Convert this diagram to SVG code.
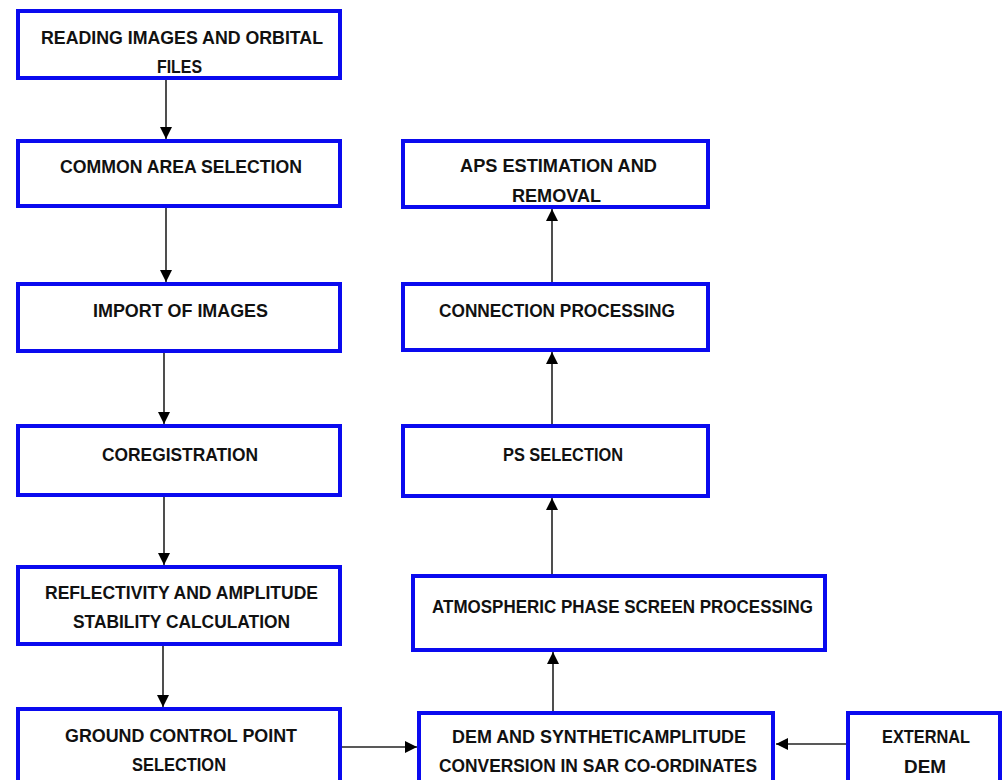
<svg xmlns="http://www.w3.org/2000/svg" width="1004" height="780" viewBox="0 0 1004 780">
<style>
.box{fill:#ffffff;stroke:#0a0aef;stroke-width:4}
.lbl{font-family:"Liberation Sans",Arial,sans-serif;font-weight:bold;font-size:19px;fill:#111111}
.con{stroke:#222222;stroke-width:1.6;fill:none;marker-end:url(#ah)}
</style>
<defs>
<marker id="ah" markerUnits="userSpaceOnUse" markerWidth="12" markerHeight="12" refX="12" refY="6" orient="auto">
<path d="M0,0 L12,6 L0,12 Z" fill="#000000"/>
</marker>
</defs>
<rect width="1004" height="780" fill="#ffffff"/>
<g id="connectors">
<line class="con" x1="166" y1="80" x2="166" y2="139"/>
<line class="con" x1="166" y1="208" x2="166" y2="282"/>
<line class="con" x1="164" y1="353" x2="164" y2="424"/>
<line class="con" x1="164" y1="497" x2="164" y2="565"/>
<line class="con" x1="163" y1="646" x2="163" y2="707"/>
<line class="con" x1="342" y1="747" x2="417" y2="747"/>
<line class="con" x1="846" y1="744" x2="776" y2="744"/>
<line class="con" x1="553" y1="711" x2="553" y2="652"/>
<line class="con" x1="552" y1="574" x2="552" y2="498"/>
<line class="con" x1="552" y1="424" x2="552" y2="352"/>
<line class="con" x1="552" y1="282" x2="552" y2="209"/>
</g>
<g id="n1"><rect class="box" x="18" y="11" width="322" height="67"/>
<text class="lbl" x="41" y="44" textLength="282" lengthAdjust="spacingAndGlyphs">READING IMAGES AND ORBITAL</text>
<text class="lbl" x="157" y="73" textLength="45" lengthAdjust="spacingAndGlyphs">FILES</text></g>
<g id="n2"><rect class="box" x="18" y="141" width="322" height="65"/>
<text class="lbl" x="60" y="173" textLength="242" lengthAdjust="spacingAndGlyphs">COMMON AREA SELECTION</text></g>
<g id="n3"><rect class="box" x="18" y="284" width="322" height="67"/>
<text class="lbl" x="93" y="317" textLength="175" lengthAdjust="spacingAndGlyphs">IMPORT OF IMAGES</text></g>
<g id="n4"><rect class="box" x="18" y="426" width="322" height="69"/>
<text class="lbl" x="102" y="461" textLength="156" lengthAdjust="spacingAndGlyphs">COREGISTRATION</text></g>
<g id="n5"><rect class="box" x="18" y="567" width="322" height="77"/>
<text class="lbl" x="45" y="599" textLength="273" lengthAdjust="spacingAndGlyphs">REFLECTIVITY AND AMPLITUDE</text>
<text class="lbl" x="73" y="628" textLength="217" lengthAdjust="spacingAndGlyphs">STABILITY CALCULATION</text></g>
<g id="n6"><rect class="box" x="18" y="709" width="322" height="90"/>
<text class="lbl" x="65" y="742" textLength="232" lengthAdjust="spacingAndGlyphs">GROUND CONTROL POINT</text>
<text class="lbl" x="132" y="771" textLength="94" lengthAdjust="spacingAndGlyphs">SELECTION</text></g>
<g id="n7"><rect class="box" x="403" y="141" width="305" height="66"/>
<text class="lbl" x="460" y="172" textLength="197" lengthAdjust="spacingAndGlyphs">APS ESTIMATION AND</text>
<text class="lbl" x="512" y="202" textLength="89" lengthAdjust="spacingAndGlyphs">REMOVAL</text></g>
<g id="n8"><rect class="box" x="403" y="284" width="305" height="66"/>
<text class="lbl" x="439" y="317" textLength="236" lengthAdjust="spacingAndGlyphs">CONNECTION PROCESSING</text></g>
<g id="n9"><rect class="box" x="403" y="426" width="305" height="70"/>
<text class="lbl" x="503" y="461" textLength="120" lengthAdjust="spacingAndGlyphs">PS SELECTION</text></g>
<g id="n10"><rect class="box" x="413" y="576" width="412" height="74"/>
<text class="lbl" x="432" y="613" textLength="381" lengthAdjust="spacingAndGlyphs">ATMOSPHERIC PHASE SCREEN PROCESSING</text></g>
<g id="n11"><rect class="box" x="419" y="713" width="354" height="90"/>
<text class="lbl" x="452" y="743" textLength="294" lengthAdjust="spacingAndGlyphs">DEM AND SYNTHETICAMPLITUDE</text>
<text class="lbl" x="439" y="772" textLength="318" lengthAdjust="spacingAndGlyphs">CONVERSION IN SAR CO-ORDINATES</text></g>
<g id="n12"><rect class="box" x="848" y="713" width="152" height="90"/>
<text class="lbl" x="882" y="743" textLength="88" lengthAdjust="spacingAndGlyphs">EXTERNAL</text>
<text class="lbl" x="904" y="773" textLength="42" lengthAdjust="spacingAndGlyphs">DEM</text></g>
</svg>
